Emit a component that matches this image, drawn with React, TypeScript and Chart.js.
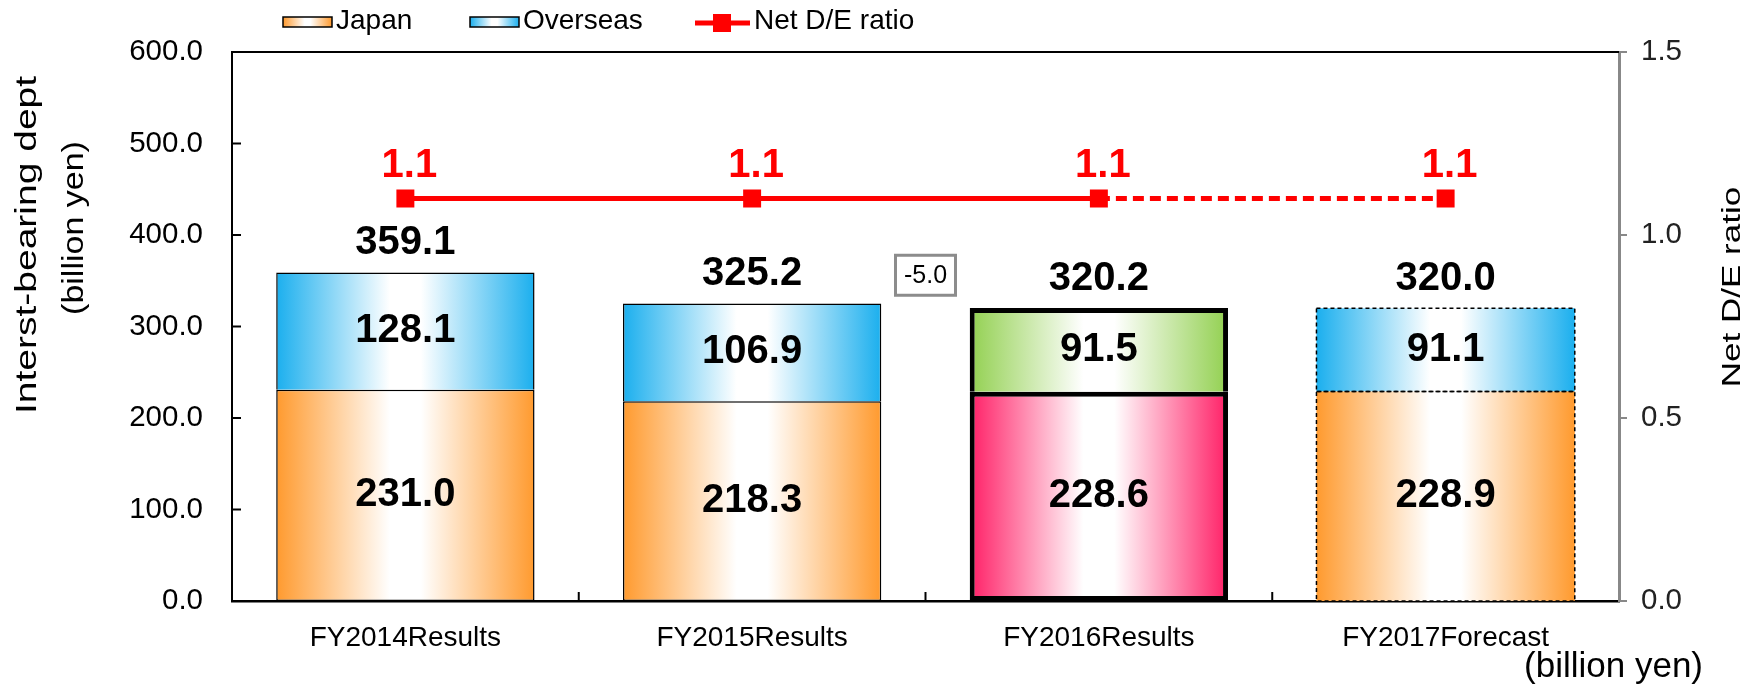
import React, { useEffect, useRef } from 'react';
import { Chart, registerables } from 'chart.js';

Chart.register(...registerables);

// ---------- data ----------
const categories = ['FY2014Results', 'FY2015Results', 'FY2016Results', 'FY2017Forecast'];
const japanValues = [231.0, 218.3, 228.6, 228.9];
const overseasValues = [128.1, 106.9, 91.5, 91.1];
const totalValues = [359.1, 325.2, 320.2, 320.0];
const deRatioValues = [1.1, 1.1, 1.1, 1.1];
const leftTicks = [0, 100, 200, 300, 400, 500, 600];
const rightTicks = [0, 0.5, 1.0, 1.5];
const changeLabel = '-5.0';
const changeAnchor = { index: 1.5, value: 356 };

// ---------- styles ----------
const FONT = "'Liberation Sans', Arial, Helvetica, sans-serif";
const ORANGE = '#FF9A2E';
const BLUE = '#1BAFEE';
const PINK = '#FF1F66';
const GREEN = '#92D050';
const RED = '#FF0000';
const BAR_PCT = 0.745;

function hGrad(ctx: CanvasRenderingContext2D, x0: number, x1: number, edge: string) {
  const g = ctx.createLinearGradient(x0, 0, x1, 0);
  g.addColorStop(0, edge);
  g.addColorStop(0.44, '#ffffff');
  g.addColorStop(0.56, '#ffffff');
  g.addColorStop(1, edge);
  return g;
}

const japanEdge = (i: number) => (i === 2 ? PINK : ORANGE);
const overseasEdge = (i: number) => (i === 2 ? GREEN : BLUE);

const barBg = (edgeFor: (i: number) => string) => (c: any) => {
  const chart = c.chart;
  const xs = chart.scales && chart.scales.x;
  if (c.dataIndex === undefined || !xs || !xs.width) return edgeFor(0);
  const center = xs.getPixelForValue(c.dataIndex);
  const half = (xs.width / categories.length) * BAR_PCT / 2;
  return hGrad(chart.ctx, center - half, center + half, edgeFor(c.dataIndex));
};

const barBorderWidth = (c: any) => (c.dataIndex === 2 ? 5 : c.dataIndex === 3 ? 0 : 1.5);

function rotText(ctx: CanvasRenderingContext2D, text: string, x: number, y: number, size: number, squeeze: number) {
  ctx.save();
  ctx.translate(x, y);
  ctx.rotate(-Math.PI / 2);
  ctx.scale(1, squeeze);
  ctx.font = `${size}px ${FONT}`;
  ctx.textAlign = 'center';
  ctx.textBaseline = 'alphabetic';
  ctx.fillStyle = '#000';
  ctx.fillText(text, 0, 0);
  ctx.restore();
}

const framePlugin = {
  id: 'framePlugin',
  afterDatasetsDraw(chart: any) {
    const { ctx, chartArea } = chart;
    const xs = chart.scales.x;
    const ys = chart.scales.y;
    ctx.save();
    // dashed outline for forecast bar
    ctx.setLineDash([4, 3]);
    ctx.lineWidth = 1.5;
    ctx.strokeStyle = '#000';
    [0, 1].forEach((di) => {
      const el = chart.getDatasetMeta(di).data[3];
      if (!el) return;
      const p = el.getProps(['x', 'y', 'base', 'width'], true);
      ctx.strokeRect(p.x - p.width / 2, p.y, p.width, p.base - p.y);
    });
    ctx.setLineDash([]);
    // top border
    ctx.strokeStyle = '#000';
    ctx.lineWidth = 2;
    ctx.beginPath();
    ctx.moveTo(chartArea.left, chartArea.top);
    ctx.lineTo(chartArea.right, chartArea.top);
    ctx.stroke();
    // inward ticks on left axis
    leftTicks.forEach((v) => {
      const y = ys.getPixelForValue(v);
      ctx.beginPath();
      ctx.moveTo(chartArea.left, y);
      ctx.lineTo(chartArea.left + 9, y);
      ctx.stroke();
    });
    // category separators
    for (let i = 1; i < categories.length; i++) {
      const x = xs.getPixelForValue(i - 0.5);
      ctx.beginPath();
      ctx.moveTo(x, chartArea.bottom);
      ctx.lineTo(x, chartArea.bottom - 9);
      ctx.stroke();
    }
    ctx.restore();
  },
};

const labelPlugin = {
  id: 'labelPlugin',
  afterDatasetsDraw(chart: any) {
    const ctx = chart.ctx;
    ctx.save();
    ctx.textAlign = 'center';
    ctx.textBaseline = 'middle';
    ctx.font = `bold 40px ${FONT}`;
    ctx.fillStyle = '#000';
    [japanValues, overseasValues].forEach((vals, di) => {
      chart.getDatasetMeta(di).data.forEach((el: any, i: number) => {
        const p = el.getProps(['x', 'y', 'base'], true);
        ctx.fillText(vals[i].toFixed(1), p.x, (p.y + p.base) / 2);
      });
    });
    chart.getDatasetMeta(1).data.forEach((el: any, i: number) => {
      const p = el.getProps(['x', 'y'], true);
      ctx.fillText(totalValues[i].toFixed(1), p.x, p.y - 29);
    });
    ctx.fillStyle = RED;
    chart.getDatasetMeta(2).data.forEach((el: any, i: number) => {
      const p = el.getProps(['x', 'y'], true);
      ctx.fillText(deRatioValues[i].toFixed(1), p.x + 4, p.y - 32);
    });
    // change annotation
    const cx = chart.scales.x.getPixelForValue(changeAnchor.index);
    const cy = chart.scales.y.getPixelForValue(changeAnchor.value);
    const bw = 60;
    const bh = 40;
    ctx.fillStyle = '#fff';
    ctx.fillRect(cx - bw / 2, cy - bh / 2, bw, bh);
    ctx.strokeStyle = '#8c8c8c';
    ctx.lineWidth = 3;
    ctx.strokeRect(cx - bw / 2, cy - bh / 2, bw, bh);
    ctx.fillStyle = '#000';
    ctx.font = `25px ${FONT}`;
    ctx.fillText(changeLabel, cx, cy + 1);
    ctx.restore();
  },
};

const decorPlugin = {
  id: 'decorPlugin',
  afterDraw(chart: any) {
    const ctx = chart.ctx;
    ctx.save();
    // legend
    ctx.font = `28px ${FONT}`;
    ctx.textAlign = 'left';
    ctx.textBaseline = 'alphabetic';
    ctx.fillStyle = '#000';
    const box = (x: number, edge: string) => {
      ctx.fillStyle = hGrad(ctx, x, x + 49, edge);
      ctx.fillRect(x, 17, 49, 10);
      ctx.strokeStyle = '#000';
      ctx.lineWidth = 1.5;
      ctx.strokeRect(x, 17, 49, 10);
      ctx.fillStyle = '#000';
    };
    box(283, ORANGE);
    ctx.fillText('Japan', 336, 29);
    box(470, BLUE);
    ctx.fillText('Overseas', 523, 29);
    ctx.strokeStyle = RED;
    ctx.lineWidth = 5;
    ctx.beginPath();
    ctx.moveTo(695, 23);
    ctx.lineTo(750, 23);
    ctx.stroke();
    ctx.fillStyle = RED;
    ctx.fillRect(713, 14, 18, 18);
    ctx.fillStyle = '#000';
    ctx.fillText('Net D/E ratio', 754, 29);
    // axis titles
    rotText(ctx, 'Interst-bearing dept', 36, 245, 39, 0.74);
    rotText(ctx, '(billion yen)', 83, 228, 34, 0.85);
    rotText(ctx, 'Net D/E ratio', 1740, 287, 35, 0.72);
    // unit note
    ctx.font = `35px ${FONT}`;
    ctx.textAlign = 'right';
    ctx.fillStyle = '#000';
    ctx.fillText('(billion yen)', 1703, 677);
    ctx.restore();
  },
};

export default function App() {
  const ref = useRef<HTMLCanvasElement>(null);

  useEffect(() => {
    document.body.style.margin = '0';
    const canvas = ref.current;
    if (!canvas) return;
    Chart.defaults.font.family = FONT;
    const chart = new Chart(canvas, {
      type: 'bar',
      data: {
        labels: categories,
        datasets: [
          {
            type: 'bar',
            label: 'Japan',
            data: japanValues,
            backgroundColor: barBg(japanEdge),
            borderColor: '#000',
            borderWidth: barBorderWidth,
            borderSkipped: false,
            barPercentage: BAR_PCT,
            categoryPercentage: 1,
            order: 1,
          } as any,
          {
            type: 'bar',
            label: 'Overseas',
            data: overseasValues,
            backgroundColor: barBg(overseasEdge),
            borderColor: '#000',
            borderWidth: barBorderWidth,
            borderSkipped: 'bottom',
            barPercentage: BAR_PCT,
            categoryPercentage: 1,
            order: 1,
          } as any,
          {
            type: 'line',
            label: 'Net D/E ratio',
            data: deRatioValues,
            yAxisID: 'y1',
            borderColor: RED,
            backgroundColor: RED,
            borderWidth: 5,
            pointStyle: 'rect',
            pointRadius: 12.7,
            pointBackgroundColor: RED,
            pointBorderWidth: 0,
            order: 0,
            segment: {
              borderDash: (s: any) => (s.p1DataIndex === 3 ? [11, 6] : undefined),
            },
          } as any,
        ],
      },
      options: {
        responsive: false,
        animation: false,
        devicePixelRatio: 1,
        layout: { padding: { top: 52, left: 0, right: 0, bottom: 0 } },
        plugins: {
          legend: { display: false },
          tooltip: { enabled: false },
          title: { display: false },
        },
        scales: {
          x: {
            stacked: true,
            grid: { display: false, drawTicks: false },
            border: { display: true, color: '#000', width: 2.5 },
            ticks: { font: { family: FONT, size: 28 }, color: '#000', padding: 20, maxRotation: 0 },
            afterFit: (s: any) => { s.height = 84; },
          },
          y: {
            stacked: true,
            position: 'left',
            min: 0,
            max: 600,
            afterBuildTicks: (s: any) => { s.ticks = leftTicks.map((v) => ({ value: v })); },
            ticks: {
              callback: (v: any) => Number(v).toFixed(1),
              font: { family: FONT, size: 29.5 },
              color: '#000',
              padding: 29,
            },
            grid: { display: false, drawTicks: false },
            border: { display: true, color: '#000', width: 2 },
            afterFit: (s: any) => { s.width = 232; },
          },
          y1: {
            position: 'right',
            min: 0,
            max: 1.5,
            afterBuildTicks: (s: any) => { s.ticks = rightTicks.map((v) => ({ value: v })); },
            ticks: {
              callback: (v: any) => Number(v).toFixed(1),
              font: { family: FONT, size: 29.5 },
              color: '#222',
              padding: 14,
            },
            grid: { display: true, drawOnChartArea: false, drawTicks: true, tickLength: 8, color: '#888', lineWidth: 2 },
            border: { display: true, color: '#888', width: 3 },
            afterFit: (s: any) => { s.width = 125; },
          },
        },
      } as any,
      plugins: [framePlugin, labelPlugin, decorPlugin],
    });
    return () => chart.destroy();
  }, []);

  return (
    <canvas
      ref={ref}
      width={1744}
      height={685}
      style={{ display: 'block', width: '1744px', height: '685px' }}
    />
  );
}
